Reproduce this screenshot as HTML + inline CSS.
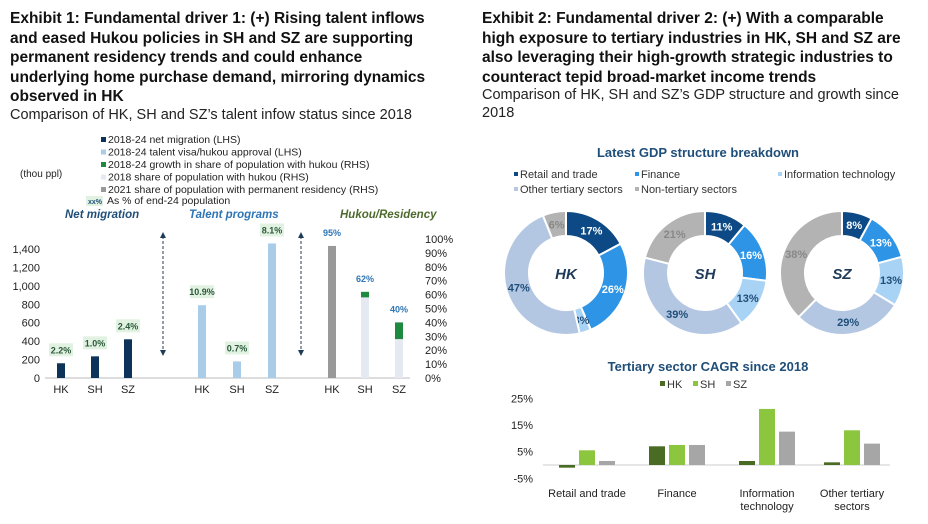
<!DOCTYPE html>
<html><head><meta charset="utf-8"><style>
body{margin:0;width:928px;height:524px;background:#fff;overflow:hidden;font-family:"Liberation Sans",Arial,sans-serif}
.h{position:absolute;font-weight:bold;font-size:15.5px;line-height:19.5px;color:#111;white-space:nowrap}
.s{position:absolute;font-size:14.5px;line-height:18px;color:#222;white-space:nowrap}
svg{position:absolute;left:0;top:0}
</style></head><body>
<div class="h" style="left:10px;top:9px">Exhibit 1: Fundamental driver 1: (+) Rising talent inflows<br>and eased Hukou policies in SH and SZ are supporting<br>permanent residency trends and could enhance<br>underlying home purchase demand, mirroring dynamics<br>observed in HK</div>
<div class="s" style="left:10px;top:106px">Comparison of HK, SH and SZ’s talent infow status since 2018</div>
<div class="h" style="left:482px;top:9px">Exhibit 2: Fundamental driver 2: (+) With a comparable<br>high exposure to tertiary industries in HK, SH and SZ are<br>also leveraging their high-growth strategic industries to<br>counteract tepid broad-market income trends</div>
<div class="s" style="left:482px;top:86px">Comparison of HK, SH and SZ’s GDP structure and growth since<br>2018</div>
<svg id="c" width="928" height="524" font-family="Liberation Sans, Arial, sans-serif"></svg>
<script>
// Exhibit 1 data
const cities=["HK","SH","SZ"];
const netMigration=[160,235,420];
const netMigLabels=["2.2%","1.0%","2.4%"];
const talent=[790,180,1460];
const talentLabels=["10.9%","0.7%","8.1%"];
const hukou2018=[95,58,28];
const hukouGrowth=[0,4,12];
const hukouLabels=["95%","62%","40%"];
const leftTicks=[0,200,400,600,800,1000,1200,1400];
const rightTicks=[0,10,20,30,40,50,60,70,80,90,100];
// Exhibit 2 data
const sectors=["Retail and trade","Finance","Information technology","Other tertiary sectors","Non-tertiary sectors"];
const gdpHK=[17,26,3,47,6];
const gdpSH=[11,16,13,39,21];
const gdpSZ=[8,13,13,29,38];
const cagrCats=["Retail and trade","Finance","Information technology","Other tertiary sectors"];
const cagrHK=[-1,7,1.5,1];
const cagrSH=[5.5,7.5,21,13];
const cagrSZ=[1.5,7.5,12.5,8];
const cagrTicks=[-5,5,15,25];

const S=document.getElementById('c');const NS='http://www.w3.org/2000/svg';
function el(t,a,txt){const e=document.createElementNS(NS,t);for(const k in a)e.setAttribute(k,a[k]);if(txt!==undefined)e.textContent=txt;S.appendChild(e);return e;}
const yL=v=>378-v*(129/1400);
const yR=v=>378-v*1.39;
leftTicks.forEach(t=>{const e=el('text',{x:40,y:yL(t)+4,'font-size':11,'text-anchor':'end',fill:'#222'},t.toLocaleString('en-US'));
});
rightTicks.forEach(t=>{const e=el('text',{x:425,y:yR(t)+4,'font-size':11,fill:'#222'},t+'%');
});
el('text',{x:20,y:177,'font-size':10,fill:'#222'},'(thou ppl)');
el('line',{x1:45,x2:410,y1:378,y2:378,stroke:'#bbb'});
const leg=[["#0d3358","2018-24 net migration (LHS)"],["#a9cde9","2018-24 talent visa/hukou approval (LHS)"],["#1d8a3f","2018-24 growth in share of population with hukou (RHS)"],["#e4e9f2","2018 share of population with hukou (RHS)"],["#999","2021 share of population with permanent residency (RHS)"]];
leg.forEach((l,i)=>{el('rect',{x:101,y:137+i*12.5,width:5,height:5,fill:l[0]});const e=el('text',{x:108,y:143+i*12.5,'font-size':10.5,fill:'#222'},l[1]);
});
el('rect',{x:86,y:196,width:17,height:10,fill:'#e2f2e2'});el('text',{x:88,y:204,'font-size':7,fill:'#1f4e79','font-weight':'bold'},'xx%');
el('text',{x:107,y:204,'font-size':10.5,fill:'#222'},'As % of end-24 population');
[["Net migration",65,'#1f4e79'],["Talent programs",189,'#2e75b6'],["Hukou/Residency",340,'#4e6b2e']].forEach(g=>{const e=el('text',{x:g[1],y:218,'font-size':11.5,'font-weight':'bold','font-style':'italic',fill:g[2]},g[0]);});
[163,301].forEach(x=>{el('line',{x1:x,x2:x,y1:236,y2:352,stroke:'#1f3b5a','stroke-dasharray':'3,2'});el('path',{d:`M${x-3} 238 L${x} 232 L${x+3} 238Z`,fill:'#1f3b5a'});el('path',{d:`M${x-3} 350 L${x} 356 L${x+3} 350Z`,fill:'#1f3b5a'});});
function lbl(x,y,t,bg,col){el('rect',{x:x-12,y:y-10,width:24,height:13,fill:bg});el('text',{x:x,y:y,'font-size':9,'font-weight':'bold','text-anchor':'middle',fill:col},t);}
const g1=[61,95,128],g2=[202,237,272],g3=[332,365,399];
cities.forEach((c,i)=>{
 let b=el('rect',{x:g1[i]-4,y:yL(netMigration[i]),width:8,height:378-yL(netMigration[i]),fill:'#0d3358'});
 lbl(g1[i],yL(netMigration[i])-10,netMigLabels[i],'#e2f2e2','#2a5a3a');
 b=el('rect',{x:g2[i]-4,y:yL(talent[i]),width:8,height:378-yL(talent[i]),fill:'#a9cde9'});
 lbl(g2[i],yL(talent[i])-10,talentLabels[i],'#e2f2e2','#2a5a3a');
 b=el('rect',{x:g3[i]-4,y:yR(hukou2018[i]),width:8,height:378-yR(hukou2018[i]),fill:i==0?'#999':'#e4e9f2'});
 const top=hukou2018[i]+hukouGrowth[i];
 b=el('rect',{x:g3[i]-4,y:yR(top),width:8,height:yR(hukou2018[i])-yR(top),fill:'#1d8a3f'});
 el('text',{x:g3[i],y:yR(top)-10,'font-size':9,'font-weight':'bold','text-anchor':'middle',fill:'#2e75b6'},hukouLabels[i]);
 [g1,g2,g3].forEach(g=>el('text',{x:g[i],y:393,'font-size':11,'text-anchor':'middle',fill:'#222'},c));
});
el('text',{x:698,y:157,'font-size':13,'font-weight':'bold','text-anchor':'middle',fill:'#1f4e79'},'Latest GDP  structure breakdown');
const dcol=['#0d4a85','#2e95e6','#a9d3f5','#b4c7e2','#b3b3b3'];
const lpos=[[520,178],[641,178],[784,178],[520,193],[641,193]];
sectors.forEach((s,i)=>{el('rect',{x:lpos[i][0]-6,y:lpos[i][1]-6,width:4,height:4,fill:dcol[i]});const e=el('text',{x:lpos[i][0],y:lpos[i][1],'font-size':11,fill:'#333'},s);});
const lc=['#fff','#fff','#1f4e79','#1f4e79','#888'];
function donut(cx,cy,vals,name){
 const R=62,r=37;let a=0;const tot=vals.reduce((p,q)=>p+q,0);
 vals.forEach((v,i)=>{const a0=a/tot*2*Math.PI,a1=(a+v)/tot*2*Math.PI;a+=v;
  const p=(ang,rr)=>[cx+rr*Math.sin(ang),cy-rr*Math.cos(ang)];const lg=(a1-a0)>Math.PI?1:0;
  const [x0,y0]=p(a0,R),[x1,y1]=p(a1,R),[x2,y2]=p(a1,r),[x3,y3]=p(a0,r);
  const e=el('path',{d:`M${x0} ${y0}A${R} ${R} 0 ${lg} 1 ${x1} ${y1}L${x2} ${y2}A${r} ${r} 0 ${lg} 0 ${x3} ${y3}Z`,fill:dcol[i],stroke:'#fff','stroke-width':2});
  
  const m=(a0+a1)/2,[lx,ly]=p(m,(R+r)/2);
  el('text',{x:lx,y:ly+4,'font-size':11,'font-weight':'bold','text-anchor':'middle',fill:lc[i]},v+'%');});
 el('text',{x:cx,y:cy+6,'font-size':15,'font-weight':'bold','font-style':'italic','text-anchor':'middle',fill:'#1f3b5a'},name);
}
donut(566,273,gdpHK,'HK');donut(705,273,gdpSH,'SH');donut(842,273,gdpSZ,'SZ');
el('text',{x:708,y:371,'font-size':13,'font-weight':'bold','text-anchor':'middle',fill:'#1f4e79'},'Tertiary sector CAGR since 2018');
const ccol=['#4a6b23','#8cc63f','#a6a6a6'];
['HK','SH','SZ'].forEach((c,i)=>{el('rect',{x:660+i*33,y:381,width:5,height:5,fill:ccol[i]});el('text',{x:667+i*33,y:388,'font-size':11,fill:'#333'},c);});
const yC=v=>465-v*2.67;
cagrTicks.forEach(t=>el('text',{x:533,y:yC(t)+4,'font-size':11,'text-anchor':'end',fill:'#222'},t+'%'));
el('line',{x1:543,x2:890,y1:yC(0),y2:yC(0),stroke:'#ccc'});
const gx=[587,677,767,852];
[cagrHK,cagrSH,cagrSZ].forEach((ser,j)=>ser.forEach((v,i)=>{const x=gx[i]+(j-1)*20-8;const e=el('rect',{x:x,y:Math.min(yC(v),yC(0)),width:16,height:Math.abs(yC(v)-yC(0)),fill:ccol[j]});}));
[["Retail and trade"],["Finance"],["Information","technology"],["Other tertiary","sectors"]].forEach((l,i)=>l.forEach((t,k)=>el('text',{x:gx[i],y:497+k*13,'font-size':11,'text-anchor':'middle',fill:'#222'},t)));
</script>
</body></html>
